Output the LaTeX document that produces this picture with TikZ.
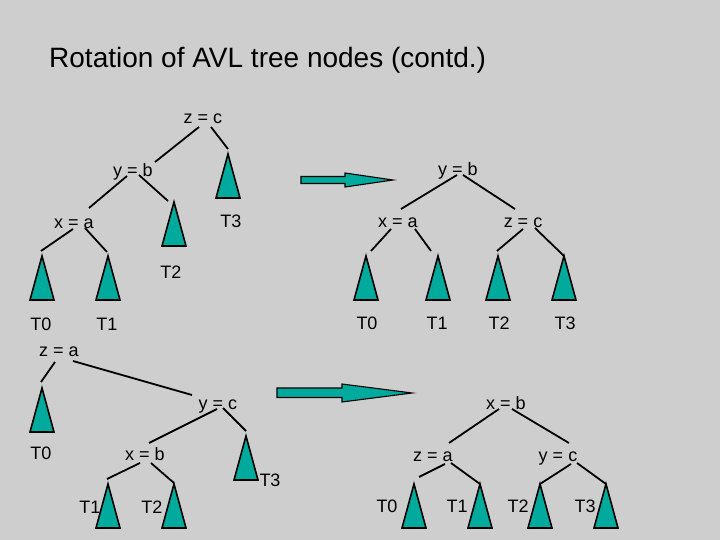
\documentclass[tikz,border=0pt]{standalone}
\usepackage{fontspec}
\setmainfont{Liberation Sans}
\usetikzlibrary{calc}
\definecolor{bgc}{RGB}{206,206,206}
\definecolor{tealc}{RGB}{0,170,156}
\begin{document}
\begin{tikzpicture}[x=1pt,y=-1pt,
  lbl/.style={inner sep=0pt,text height=13pt,text depth=0pt,font=\fontsize{18}{21}\selectfont},
  edge/.style={draw=black,line width=1.8pt},
  tri/.style={draw=black,fill=tealc,line width=1.6pt,line join=miter},
  bigarrow/.style={draw=black,fill=tealc,line width=1.1pt,line join=miter},
  subtree/.pic={\draw[tri] (0,0) -- (-12,44) -- (12,44) -- cycle;}]
\fill[bgc] (0,0) rectangle (720,540);
\useasboundingbox (0,0) rectangle (720,540);

% title
\node[anchor=west,inner sep=0pt,text height=20pt,text depth=0pt,font=\fontsize{28}{32}\selectfont] (title) at (49,58) {Rotation of AVL tree nodes (contd.)};

% ---------- tree 1 ----------
\node[lbl] (zc1) at (203,117) {z = c};
\node[lbl] (yb1) at (133,170) {y = b};
\node[lbl] (xa1) at (74,222) {x = a};
\coordinate (a1T3) at (228,154);
\coordinate (a1T2) at (174,202);
\coordinate (a1T0) at (42,256);
\coordinate (a1T1) at (108,256);
\pic at (a1T3) {subtree};
\pic at (a1T2) {subtree};
\pic at (a1T0) {subtree};
\pic at (a1T1) {subtree};
\node[lbl] (l1T3) at (231,221) {T3};
\node[lbl] (l1T2) at (171,272) {T2};
\node[lbl] (l1T0) at (41,324) {T0};
\node[lbl] (l1T1) at (107,324) {T1};
\draw[edge] ($(zc1)+(-4,10)$) -- ($(yb1)+(22,-8)$);
\draw[edge] ($(zc1)+(8,10)$) -- ($(a1T3)+(0,-5)$);
\draw[edge] ($(yb1)+(-6,6)$) -- ($(xa1)+(15,-14)$);
\draw[edge] ($(yb1)+(6,5)$) -- ($(a1T2)+(-6,-1)$);
\draw[edge] ($(xa1)+(-1,7)$) -- ($(a1T0)+(-1,-5)$);
\draw[edge] ($(xa1)+(11,6)$) -- ($(a1T1)+(-1,-4)$);

% arrow 1
\draw[bigarrow] (301,176.5) -- (345,176.5) -- (345,173) -- (393,180) -- (345,187) -- (345,183.5) -- (301,183.5) -- cycle;

% ---------- tree 2 ----------
\node[lbl] (yb2) at (458,169) {y = b};
\node[lbl] (xa2) at (398,221) {x = a};
\node[lbl] (zc2) at (523,221) {z = c};
\coordinate (a2T0) at (366,256);
\coordinate (a2T1) at (438,256);
\coordinate (a2T2) at (498,256);
\coordinate (a2T3) at (564,256);
\pic at (a2T0) {subtree};
\pic at (a2T1) {subtree};
\pic at (a2T2) {subtree};
\pic at (a2T3) {subtree};
\node[lbl] (l2T0) at (367,323) {T0};
\node[lbl] (l2T1) at (437,323) {T1};
\node[lbl] (l2T2) at (499,323) {T2};
\node[lbl] (l2T3) at (565,323) {T3};
\draw[edge] ($(yb2)+(-1,6)$) -- ($(xa2)+(3,-12)$);
\draw[edge] ($(yb2)+(5,6)$) -- ($(zc2)+(-8,-12)$);
\draw[edge] ($(xa2)+(-7,8)$) -- ($(a2T0)+(5,-5)$);
\draw[edge] ($(xa2)+(17,8)$) -- ($(a2T1)+(-7,-5)$);
\draw[edge] ($(zc2)+(0,8)$) -- ($(a2T2)+(-1,-5)$);
\draw[edge] ($(zc2)+(12,7)$) -- ($(a2T3)+(0,0)$);

% ---------- tree 3 ----------
\node[lbl] (za3) at (59,350) {z = a};
\node[lbl] (yc3) at (218,403) {y = c};
\node[lbl] (xb3) at (145,454) {x = b};
\coordinate (a3T0) at (42,388);
\coordinate (a3T3) at (246,436);
\coordinate (a3T1) at (108,484);
\coordinate (a3T2) at (174,484);
\pic at (a3T0) {subtree};
\pic at (a3T3) {subtree};
\pic at (a3T1) {subtree};
\pic at (a3T2) {subtree};
\node[lbl] (l3T0) at (41,453) {T0};
\node[lbl] (l3T3) at (270,480) {T3};
\node[lbl] (l3T1) at (90,507) {T1};
\node[lbl] (l3T2) at (152,507) {T2};
\draw[edge] ($(za3)+(-4,12)$) -- ($(a3T0)+(-1,-6)$);
\draw[edge] ($(za3)+(14,11)$) -- ($(yc3)+(-26,-8)$);
\draw[edge] ($(yc3)+(-1,6)$) -- ($(xb3)+(4,-11)$);
\draw[edge] ($(yc3)+(5,5)$) -- ($(a3T3)+(0,-5)$);
\draw[edge] ($(xb3)+(-5,9)$) -- ($(a3T1)+(-1,-5)$);
\draw[edge] ($(xb3)+(6,9)$) -- ($(a3T2)+(0,-1)$);

% arrow 2
\draw[bigarrow] (277,388) -- (342,388) -- (342,384) -- (412,393) -- (342,402) -- (342,397.5) -- (277,397.5) -- cycle;

% ---------- tree 4 ----------
\node[lbl] (xb4) at (506,403) {x = b};
\node[lbl] (za4) at (433,455) {z = a};
\node[lbl] (yc4) at (558,455) {y = c};
\coordinate (a4T0) at (414,484);
\coordinate (a4T1) at (480,484);
\coordinate (a4T2) at (540,484);
\coordinate (a4T3) at (606,484);
\pic at (a4T0) {subtree};
\pic at (a4T1) {subtree};
\pic at (a4T2) {subtree};
\pic at (a4T3) {subtree};
\node[lbl] (l4T0) at (387,506) {T0};
\node[lbl] (l4T1) at (457,506) {T1};
\node[lbl] (l4T2) at (518,506) {T2};
\node[lbl] (l4T3) at (585,506) {T3};
\draw[edge] ($(xb4)+(-7,6)$) -- ($(za4)+(16,-12)$);
\draw[edge] ($(xb4)+(6,6)$) -- ($(yc4)+(11,-12)$);
\draw[edge] ($(za4)+(12,9)$) -- ($(a4T0)+(5,-7)$);
\draw[edge] ($(za4)+(18,8)$) -- ($(a4T1)+(0,0)$);
\draw[edge] ($(yc4)+(13,9)$) -- ($(a4T2)+(0,0)$);
\draw[edge] ($(yc4)+(19,8)$) -- ($(a4T3)+(0,0)$);
\end{tikzpicture}
\end{document}
